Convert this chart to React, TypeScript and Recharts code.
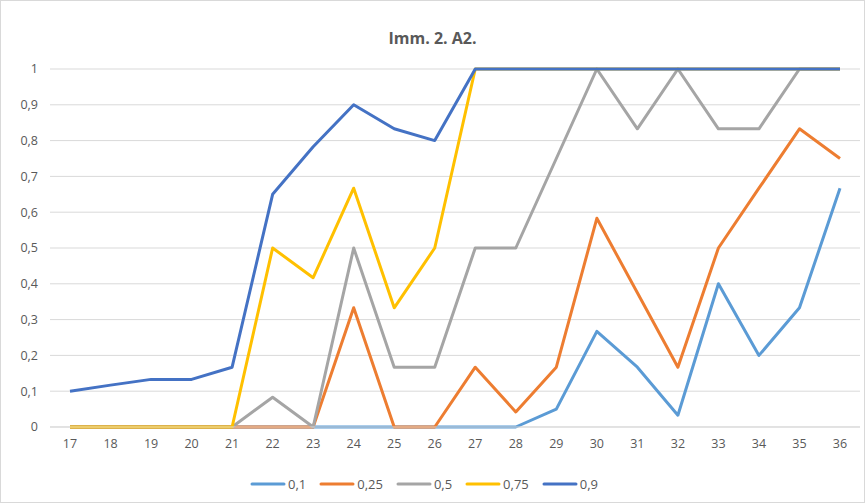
import React from "react";
import { LineChart, Line, XAxis, YAxis, CartesianGrid, Legend } from "recharts";

const categories = ["17","18","19","20","21","22","23","24","25","26","27","28","29","30","31","32","33","34","35","36"];
const s01 = [0,0,0,0,0,0,0,0,0,0,0,0,0.05,0.267,0.167,0.033,0.4,0.2,0.333,0.667];
const s025 = [0,0,0,0,0,0,0,0.333,0,0,0.167,0.042,0.167,0.583,0.375,0.167,0.5,0.667,0.833,0.75];
const s05 = [0,0,0,0,0,0.083,0,0.5,0.167,0.167,0.5,0.5,0.75,1,0.833,1,0.833,0.833,1,1];
const s075 = [0,0,0,0,0,0.5,0.417,0.667,0.333,0.5,1,1,1,1,1,1,1,1,1,1];
const s09 = [0.1,0.117,0.133,0.133,0.167,0.65,0.783,0.9,0.833,0.8,1,1,1,1,1,1,1,1,1,1];
const yTicks = [0,0.1,0.2,0.3,0.4,0.5,0.6,0.7,0.8,0.9,1];
const seriesNames = ["0,1","0,25","0,5","0,75","0,9"];
const seriesColors = ["#5B9BD5","#ED7D31","#A5A5A5","#FFC000","#4472C4"];
const seriesKeys = ["s01","s025","s05","s075","s09"];
const title = "Imm. 2. A2.";

const data = categories.map((c, i) => ({
  cat: c,
  s01: s01[i],
  s025: s025[i],
  s05: s05[i],
  s075: s075[i],
  s09: s09[i],
}));

const fmt = (v: number) => String(v).replace(".", ",");

const LegendContent = () => (
  <div style={{ display: "flex", justifyContent: "center", fontFamily: "'Open Sans', sans-serif", fontSize: 13, color: "#595959", height: 18, alignItems: "center" }}>
    {seriesNames.map((n, i) => (
      <div key={n} style={{ display: "flex", alignItems: "center", marginRight: 13 }}>
        <svg width={36} height={6} style={{ marginRight: 2 }}>
          <line x1={2} y1={3} x2={34} y2={3} stroke={seriesColors[i]} strokeWidth={3} strokeLinecap="round" />
        </svg>
        <span>{n}</span>
      </div>
    ))}
  </div>
);

export default function App() {
  return (
    <div style={{ position: "absolute", left: 0, top: 0, width: 863, height: 501, border: "1px solid #d9d9d9", background: "#fff" }}>
      <div style={{ position: "absolute", top: 26, left: 0, width: 863, textAlign: "center", fontFamily: "'Open Sans', sans-serif", fontWeight: 700, fontSize: 16, color: "#595959" }}>
        {title}
      </div>
      <LineChart width={863} height={501} data={data} margin={{ top: 68, right: 4, left: 0, bottom: 27 }}>
        <CartesianGrid vertical={false} stroke="#d9d9d9" />
        <XAxis dataKey="cat" padding={{ left: 20, right: 20 }} tickLine={false} axisLine={{ stroke: "#d9d9d9" }} tick={{ fill: "#595959", fontSize: 12.5, fontFamily: "'Open Sans', sans-serif" }} tickMargin={6} interval={0} />
        <YAxis width={49} domain={[0, 1]} ticks={yTicks} tickFormatter={fmt} tickLine={false} axisLine={false} tick={{ fill: "#595959", fontSize: 12.5, fontFamily: "'Open Sans', sans-serif" }} tickMargin={6} />
        <Legend verticalAlign="bottom" content={<LegendContent />} wrapperStyle={{ bottom: 9 }} />
        {seriesKeys.map((k, i) => (
          <Line key={k} dataKey={k} name={seriesNames[i]} stroke={seriesColors[i]} strokeWidth={3} dot={false} isAnimationActive={false} strokeLinejoin="round" />
        ))}
      </LineChart>
    </div>
  );
}
